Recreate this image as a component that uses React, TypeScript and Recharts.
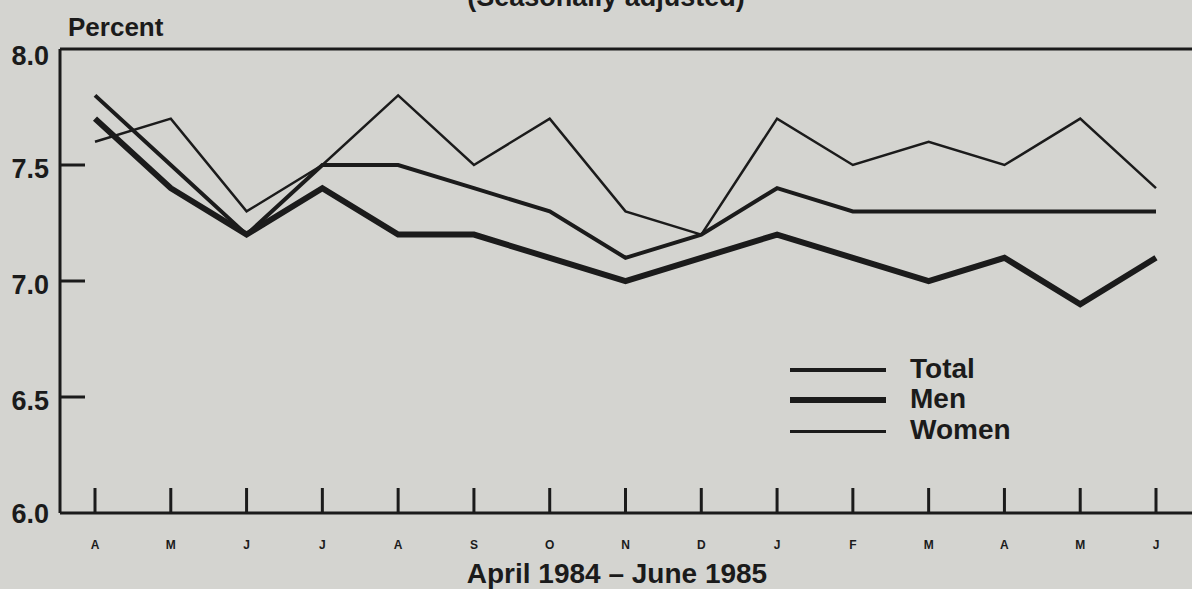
import React from 'react';
import { LineChart, Line, XAxis, YAxis, ReferenceLine } from 'recharts';

// Unemployment rates, April 1984 - June 1985 (seasonally adjusted)
const months = ['A', 'M', 'J', 'J', 'A', 'S', 'O', 'N', 'D', 'J', 'F', 'M', 'A', 'M', 'J'];
const totalRate = [7.8, 7.5, 7.2, 7.5, 7.5, 7.4, 7.3, 7.1, 7.2, 7.4, 7.3, 7.3, 7.3, 7.3, 7.3];
const menRate = [7.7, 7.4, 7.2, 7.4, 7.2, 7.2, 7.1, 7.0, 7.1, 7.2, 7.1, 7.0, 7.1, 6.9, 7.1];
const womenRate = [7.6, 7.7, 7.3, 7.5, 7.8, 7.5, 7.7, 7.3, 7.2, 7.7, 7.5, 7.6, 7.5, 7.7, 7.4];
const yTicks = [6.0, 6.5, 7.0, 7.5, 8.0];

const data = months.map((m, i) => ({
  idx: i,
  month: m,
  total: totalRate[i],
  men: menRate[i],
  women: womenRate[i],
}));

const INK = '#1b1b1b';
const FONT = '"Liberation Sans", Arial, sans-serif';

const MonthTick = (props: any) => {
  const { x, y, payload } = props;
  return (
    <g>
      <line x1={x} x2={x} y1={y - 25} y2={y} stroke={INK} strokeWidth={3} />
      <text x={x} y={y + 36} textAnchor="middle" fontSize={12} fontWeight="bold" fill={INK} fontFamily={FONT}>
        {months[payload.value]}
      </text>
    </g>
  );
};

const PercentTick = (props: any) => {
  const { x, y, payload } = props;
  const v = payload.value;
  const offset = v === 8 ? 7 : v === 6 ? 1 : 4;
  return (
    <g>
      {v > 6 && v < 8 && <line x1={x} x2={x + 25} y1={y} y2={y} stroke={INK} strokeWidth={3} />}
      <text x={x - 11} y={y + offset} textAnchor="end" dominantBaseline="central" fontSize={27} fontWeight="bold" fill={INK} fontFamily={FONT}>
        {v.toFixed(1)}
      </text>
    </g>
  );
};

const legendItems = [
  { label: 'Total', width: 4, y: 370 },
  { label: 'Men', width: 5.5, y: 400 },
  { label: 'Women', width: 3, y: 431 },
];

export default function App() {
  return (
    <div style={{ position: 'absolute', left: 0, top: 0, width: 1192, height: 589, background: '#d4d4d0', overflow: 'hidden', fontFamily: FONT }}>
      <div style={{ position: 'absolute', top: -18, left: 0, width: 1192, textAlign: 'center', fontSize: 27, fontWeight: 'bold', color: INK, paddingLeft: 20, boxSizing: 'border-box' }}>
        (Seasonally adjusted)
      </div>
      <div style={{ position: 'absolute', top: 12, left: 68, fontSize: 26, fontWeight: 'bold', color: INK }}>Percent</div>
      <LineChart width={1192} height={589} data={data} margin={{ top: 49, right: 0, bottom: 36, left: 0 }}>
        <XAxis
          dataKey="idx"
          type="category"
          height={40}
          padding={{ left: 35, right: 36 }}
          tick={<MonthTick />}
          tickSize={0}
          tickMargin={0}
          interval={0}
          axisLine={{ stroke: INK, strokeWidth: 3 }}
        />
        <YAxis
          width={60}
          domain={[6, 8]}
          ticks={yTicks}
          tick={<PercentTick />}
          tickSize={0}
          tickMargin={0}
          axisLine={{ stroke: INK, strokeWidth: 3 }}
        />
        <ReferenceLine y={8} stroke={INK} strokeWidth={3} />
        <Line dataKey="women" stroke={INK} strokeWidth={2.5} dot={false} isAnimationActive={false} />
        <Line dataKey="total" stroke={INK} strokeWidth={4} dot={false} isAnimationActive={false} />
        <Line dataKey="men" stroke={INK} strokeWidth={6} dot={false} isAnimationActive={false} />
      </LineChart>
      {legendItems.map((it) => (
        <React.Fragment key={it.label}>
          <div style={{ position: 'absolute', left: 790, top: it.y - it.width / 2, width: 96, height: it.width, background: INK }} />
          <div style={{ position: 'absolute', left: 910, top: it.y - 18, fontSize: 28, lineHeight: '34px', color: INK, fontWeight: 'bold' }}>{it.label}</div>
        </React.Fragment>
      ))}
      <div style={{ position: 'absolute', top: 557, left: 0, width: 1192, paddingLeft: 42, boxSizing: 'border-box', textAlign: 'center', fontSize: 28, lineHeight: '34px', fontWeight: 'bold', color: INK }}>
        April 1984 – June 1985
      </div>
    </div>
  );
}
